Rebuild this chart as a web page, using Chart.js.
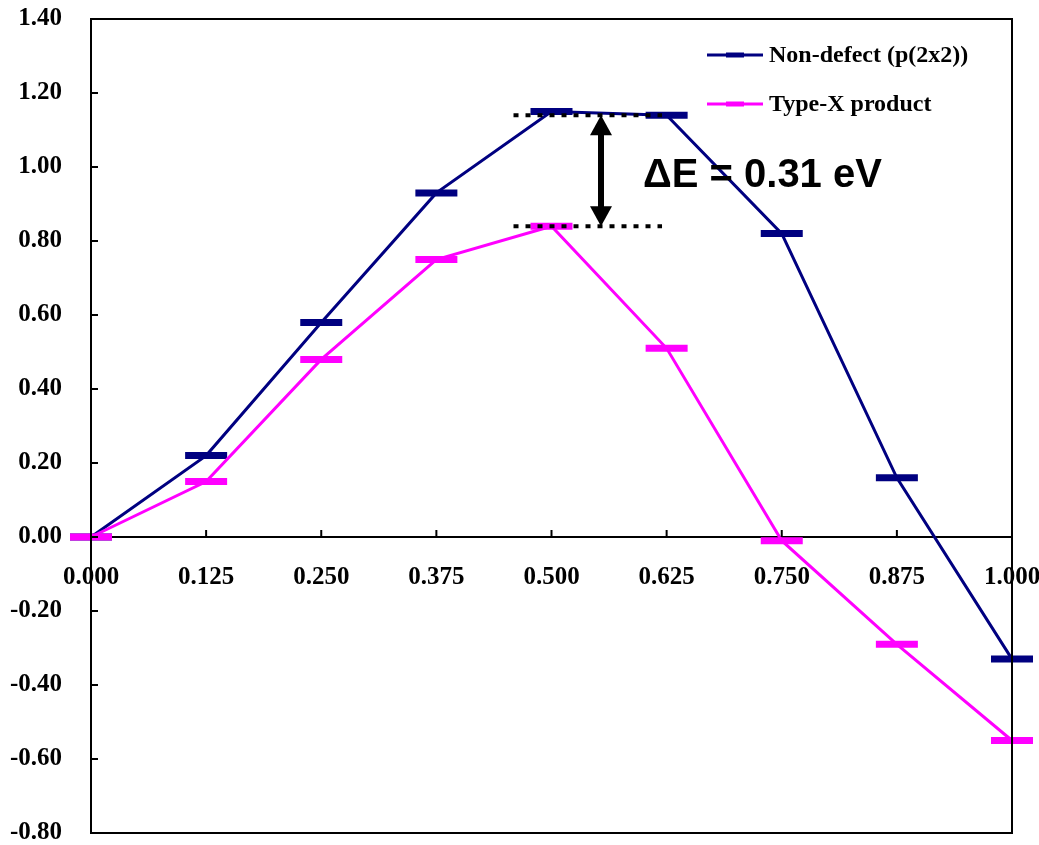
<!DOCTYPE html>
<html>
<head>
<meta charset="utf-8">
<script src="https://cdn.jsdelivr.net/npm/chart.js@4"></script>
<style>
  html, body { margin: 0; padding: 0; background: #fff; }
  #wrap { width: 1039px; height: 845px; }
</style>
</head>
<body>
<div id="wrap"><canvas id="chart" width="1039" height="845"></canvas></div>
<script>
const categories = ['0.000', '0.125', '0.250', '0.375', '0.500', '0.625', '0.750', '0.875', '1.000'];
const nonDefect = [0.00, 0.22, 0.58, 0.93, 1.15, 1.14, 0.82, 0.16, -0.33];
const typeX = [0.00, 0.15, 0.48, 0.75, 0.84, 0.51, -0.01, -0.29, -0.55];
const seriesNames = ['Non-defect (p(2x2))', 'Type-X product'];
const seriesColors = ['#000080', '#FF00FF'];
// ΔE guide: levels and x range (category index units)
const deltaLevels = [1.14, 0.84];
const deltaRange = [3.67, 4.96];
const arrowAt = 4.43;
const deltaText = '\u0394E = 0.31 eV';

const serif = 'Liberation Serif';

// frame, inner ticks, legend, ΔE annotation
const decorPlugin = {
  id: 'decor',
  afterDraw(chart) {
    const ctx = chart.ctx;
    const a = chart.chartArea;
    const xs = chart.scales.x;
    const ys = chart.scales.y;
    ctx.save();
    ctx.strokeStyle = '#000';
    ctx.lineWidth = 2;
    ctx.strokeRect(a.left, a.top, a.right - a.left, a.bottom - a.top);

    // y ticks pointing inward
    ys.ticks.forEach(t => {
      const py = ys.getPixelForValue(t.value);
      ctx.beginPath();
      ctx.moveTo(a.left, py);
      ctx.lineTo(a.left + 7, py);
      ctx.stroke();
    });
    // x ticks above the zero line
    const y0 = ys.getPixelForValue(0);
    categories.forEach((c, i) => {
      const px = xs.getPixelForValue(i);
      ctx.beginPath();
      ctx.moveTo(px, y0);
      ctx.lineTo(px, y0 - 7);
      ctx.stroke();
    });

    // dotted levels
    ctx.setLineDash([5, 7]);
    ctx.lineWidth = 4;
    deltaLevels.forEach(v => {
      const py = ys.getPixelForValue(v);
      ctx.beginPath();
      ctx.moveTo(xs.getPixelForValue(deltaRange[0]), py);
      ctx.lineTo(xs.getPixelForValue(deltaRange[1]), py);
      ctx.stroke();
    });
    ctx.setLineDash([]);

    // double arrow
    const ax = xs.getPixelForValue(arrowAt);
    const yTop = ys.getPixelForValue(deltaLevels[0]);
    const yBot = ys.getPixelForValue(deltaLevels[1]);
    ctx.fillStyle = '#000';
    ctx.lineWidth = 6;
    ctx.beginPath();
    ctx.moveTo(ax, yTop + 15);
    ctx.lineTo(ax, yBot - 15);
    ctx.stroke();
    ctx.beginPath();
    ctx.moveTo(ax, yTop);
    ctx.lineTo(ax - 11, yTop + 20);
    ctx.lineTo(ax + 11, yTop + 20);
    ctx.closePath();
    ctx.fill();
    ctx.beginPath();
    ctx.moveTo(ax, yBot);
    ctx.lineTo(ax - 11, yBot - 20);
    ctx.lineTo(ax + 11, yBot - 20);
    ctx.closePath();
    ctx.fill();

    ctx.font = 'bold 40px "Liberation Sans", Arial, sans-serif';
    ctx.textBaseline = 'alphabetic';
    ctx.textAlign = 'left';
    ctx.fillText(deltaText, 643, 187);

    // legend
    ctx.font = 'bold 24px "' + serif + '", serif';
    ctx.textBaseline = 'middle';
    seriesNames.forEach((name, i) => {
      const ly = 55 + i * 49;
      ctx.strokeStyle = seriesColors[i];
      ctx.lineWidth = 3;
      ctx.beginPath();
      ctx.moveTo(707, ly);
      ctx.lineTo(763, ly);
      ctx.stroke();
      ctx.lineWidth = 5;
      ctx.beginPath();
      ctx.moveTo(726, ly);
      ctx.lineTo(744, ly);
      ctx.stroke();
      ctx.fillStyle = '#000';
      ctx.fillText(name, 769, ly + 1);
    });
    ctx.restore();
  }
};

const makeSet = (label, data, color, order) => ({
  label: label,
  data: data,
  borderColor: color,
  backgroundColor: color,
  borderWidth: 3,
  pointStyle: 'line',
  pointRadius: 21,
  pointHoverRadius: 21,
  pointBorderWidth: 7,
  pointBorderColor: color,
  tension: 0,
  order: order,
});

new Chart(document.getElementById('chart'), {
  type: 'line',
  data: {
    labels: categories,
    datasets: [
      makeSet(seriesNames[0], nonDefect, seriesColors[0], 2),
      makeSet(seriesNames[1], typeX, seriesColors[1], 1),
    ],
  },
  options: {
    responsive: false,
    animation: false,
    layout: { autoPadding: false, padding: { top: 19, right: 27, bottom: 12, left: 0 } },
    plugins: { legend: { display: false }, tooltip: { enabled: false } },
    scales: {
      x: {
        position: { y: 0 },
        offset: false,
        grid: { display: false, drawTicks: false },
        border: { display: true, color: '#000', width: 2 },
        ticks: {
          color: '#000',
          padding: 26,
          maxRotation: 0,
          autoSkip: false,
          font: { family: serif, size: 25, weight: 'bold' },
        },
        afterFit(scale) {
          scale.paddingLeft = 0;
          scale.paddingRight = 0;
          scale.paddingTop = 0;
          scale.paddingBottom = 0;
        },
      },
      y: {
        min: -0.8,
        max: 1.4,
        grid: { display: false, drawTicks: false },
        border: { display: true, color: '#000', width: 2 },
        ticks: {
          stepSize: 0.2,
          color: '#000',
          padding: 29,
          font: { family: serif, size: 25, weight: 'bold' },
          callback: v => v.toFixed(2),
        },
        afterFit(scale) {
          scale.width = 91;
          scale.paddingTop = 0;
          scale.paddingBottom = 0;
        },
      },
    },
  },
  plugins: [decorPlugin],
});
</script>
</body>
</html>
